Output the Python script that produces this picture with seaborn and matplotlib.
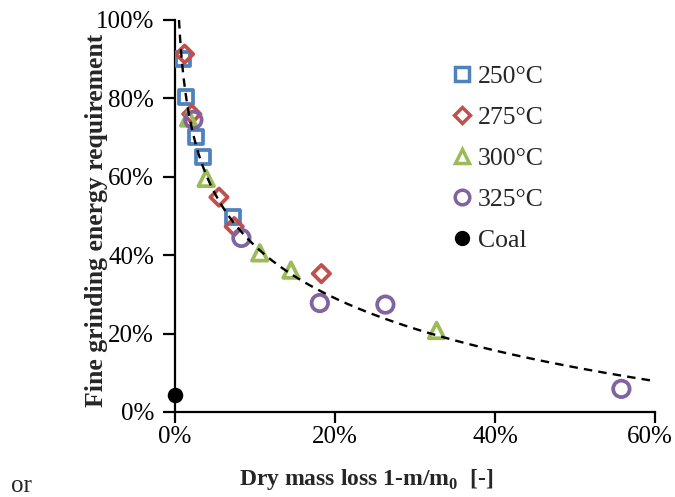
import numpy as np
import pandas as pd
import matplotlib
matplotlib.use("Agg")
import matplotlib.pyplot as plt
import matplotlib.transforms as mtransforms
from matplotlib.ticker import PercentFormatter
from matplotlib.lines import Line2D
import seaborn as sns

# ---- data (percent) ----
x_250 = [1.0, 1.4, 2.6, 3.5, 7.3]
y_250 = [90.0, 80.3, 70.2, 65.1, 49.8]
x_275 = [1.2, 2.1, 5.5, 7.4, 18.3]
y_275 = [91.3, 76.0, 54.8, 47.3, 35.3]
x_300 = [1.7, 3.9, 10.6, 14.5, 32.7]
y_300 = [75.0, 59.6, 40.6, 36.2, 20.8]
x_325 = [2.3, 8.3, 18.1, 26.3, 55.8]
y_325 = [74.5, 44.4, 27.8, 27.4, 5.9]
x_coal = [0.0]
y_coal = [4.3]
series_labels = ["250°C", "275°C", "300°C", "325°C", "Coal"]

# logarithmic trendline: y = a + b*ln(x)
trend_a = 86.66
trend_b = -19.24
trend_x_range = [0.5, 60.0]

x_ticks = [0, 20, 40, 60]
y_ticks = [0, 20, 40, 60, 80, 100]

sns.set_theme(style="white")
plt.rcParams['font.family'] = ['Liberation Serif', 'DejaVu Serif']
plt.rcParams['mathtext.fontset'] = 'custom'
plt.rcParams['mathtext.rm'] = 'Liberation Serif'
plt.rcParams['mathtext.bf'] = 'Liberation Serif:bold'

W, H = 675, 497
fig = plt.figure(figsize=(6.75, 4.97), dpi=100)
ax = fig.add_axes([175/W, 1-412/H, 480/W, 392/H])

colors = ["#4F81BD", "#C0504D", "#9BBB59", "#8064A2"]
markers = ["s", "D", "^", "o"]
sizes = [100, 78, 125, 140]
xs = [x_250, x_275, x_300, x_325]
ys = [y_250, y_275, y_300, y_325]

for xv, yv, c, m, s in zip(xs, ys, colors, markers, sizes):
    sns.scatterplot(x=xv, y=yv, ax=ax, marker=m, s=s, facecolor="none",
                    edgecolor=c, linewidth=2.7, zorder=3, legend=False)
sns.scatterplot(x=x_coal, y=y_coal, ax=ax, marker="o", s=125, color="black",
                edgecolor="black", linewidth=0, zorder=4, legend=False, clip_on=False)

tx = np.geomspace(trend_x_range[0], trend_x_range[1], 300)
ty = trend_a + trend_b * np.log(tx)
sns.lineplot(x=tx, y=ty, ax=ax, color="black", lw=1.7, zorder=5,
             estimator=None, sort=False)
ax.lines[-1].set_linestyle((0, (3.6, 2.6)))

ax.set_xlim(0, 60)
ax.set_ylim(0, 100)
ax.set_xticks(x_ticks)
ax.set_yticks(y_ticks)
ax.xaxis.set_major_formatter(PercentFormatter(decimals=0))
ax.yaxis.set_major_formatter(PercentFormatter(decimals=0))
for sp in ["top", "right"]:
    ax.spines[sp].set_visible(False)
for sp in ["left", "bottom"]:
    ax.spines[sp].set_linewidth(1.6)
    ax.spines[sp].set_color("black")
ax.tick_params(axis="both", direction="out", width=1.6, colors="black",
               labelsize=18, bottom=True, left=True)
ax.tick_params(axis="x", length=8, pad=2)
ax.tick_params(axis="y", length=9, pad=6)

# keep the last x tick label inside the canvas
last_lbl = ax.get_xticklabels()[-1]
last_lbl.set_transform(last_lbl.get_transform() +
                       mtransforms.ScaledTranslation(-5/100, 0, fig.dpi_scale_trans))

ax.set_xlabel(r"Dry mass loss 1-m/m$_\mathbf{0}$  [-]", fontsize=17, fontweight="bold")
ax.xaxis.set_label_coords((366-175)/480, (412-467)/392)
ax.set_ylabel("Fine grinding energy requirement", fontsize=18.5, fontweight="bold")
ax.yaxis.set_label_coords((108-175)/480, 0.49)

handles = [Line2D([], [], ls="none", marker=m, markersize=ms, markerfacecolor="none",
                  markeredgecolor=c, markeredgewidth=2.5)
           for m, c, ms in zip(markers, colors, [9.5, 8, 10.5, 10.5])]
handles.append(Line2D([], [], ls="none", marker="o", markersize=10,
                      markerfacecolor="black", markeredgecolor="black"))
ax.legend(handles, series_labels, loc="upper left",
          bbox_to_anchor=(454/W, 1-65/H), bbox_transform=fig.transFigure,
          frameon=False, fontsize=18.5, handlelength=0.65, handletextpad=0.28,
          labelspacing=0.7, borderpad=0, borderaxespad=0)

fig.text(11/W, 1-486/H, "or", fontsize=18, va="center", ha="left")

fig.savefig("out.png", dpi=100)
